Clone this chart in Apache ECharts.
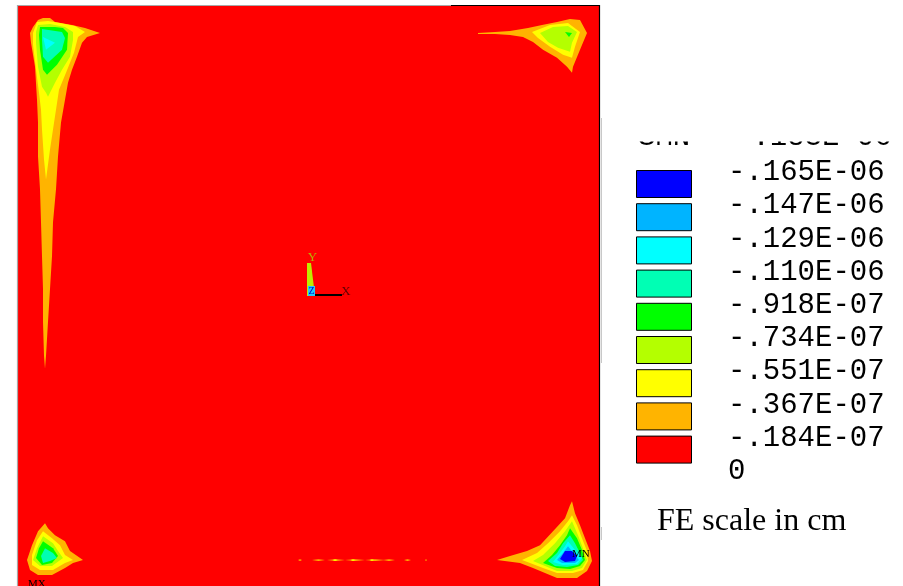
<!DOCTYPE html>
<html>
<head>
<meta charset="utf-8">
<script src="https://cdn.jsdelivr.net/npm/echarts@6/dist/echarts.min.js"></script>
<style>
  html, body { margin: 0; padding: 0; background: #ffffff; }
  #chart { width: 903px; height: 586px; }
</style>
</head>
<body>
<div id="chart"></div>
<script>
// Plate model, origin at the centre, half-width in model units
const HALF = 291;

// Contour band colours, level 0 (0 .. -.184E-07) up to level 8 (most negative)
const levelColors = ['#FF0000', '#FFB400', '#FFFF00', '#B4FF00', '#00FF00', '#00FFB4', '#00FFFF', '#00B4FF', '#0000FF'];

// Legend boundary labels, top to bottom
const legendLabels = ['-.165E-06', '-.147E-06', '-.129E-06', '-.110E-06', '-.918E-07', '-.734E-07', '-.551E-07', '-.367E-07', '-.184E-07', '0'];
const legendHeader = ['SMN', '-.183E-06'];

// Whole plate (level 0)
const plate = [[-HALF, -HALF], [HALF, -HALF], [HALF, HALF], [-HALF, HALF]];

// Contour bands, [level, ring] in model coordinates
const bandsTopLeft = [
  [1, [[-266,279],[-259,279],[-254,275],[-237,272],[-224,269],[-209,264],[-222,260],[-227,254],[-232,240],[-237,227],[-241,214],[-244,197],[-248,174],[-251,140],[-253,107],[-256,74],[-257,40],[-259,7],[-261,-26],[-263,-60],[-264,-73],[-265,-60],[-266,-26],[-266,7],[-267,40],[-268,74],[-269,107],[-271,140],[-271,174],[-272,197],[-274,230],[-278,254],[-279,264],[-276,270],[-271,277]]],
  [2, [[-272,275],[-261,276],[-249,274],[-234,271],[-224,265],[-231,260],[-235,244],[-243,224],[-250,207],[-253,187],[-256,167],[-259,147],[-263,117],[-265,137],[-267,167],[-268,187],[-270,204],[-273,227],[-276,252],[-276,264]]],
  [3, [[-271,272],[-259,273],[-244,270],[-236,265],[-236,257],[-239,240],[-247,227],[-254,214],[-259,204],[-261,200],[-263,204],[-267,210],[-271,230],[-273,254],[-273,265]]],
  [4, [[-269,270],[-254,270],[-246,269],[-241,264],[-242,247],[-252,232],[-262,222],[-266,227],[-269,247],[-270,262]]],
  [5, [[-267,268],[-247,265],[-244,259],[-247,247],[-261,234],[-266,240],[-267,257]]],
  [6, [[-266,260],[-254,254],[-263,247]]]
];

const bandsTopRight = [
  [1, [[169,264],[186,265],[201,266],[219,269],[233,272],[248,275],[261,278],[271,277],[278,264],[271,247],[264,230],[263,224],[258,230],[248,239],[234,247],[224,255],[214,260],[201,262],[186,263],[169,263]]],
  [2, [[223,265],[241,272],[259,274],[271,265],[266,250],[263,239],[254,242],[241,250],[229,259]]],
  [3, [[231,264],[244,270],[259,271],[268,265],[263,254],[261,245],[249,249],[239,255]]],
  [4, [[256,265],[263,264],[260,260]]]
];

const bandsBottomLeft = [
  [1, [[-264,-228],[-261,-233],[-254,-240],[-244,-246],[-239,-256],[-226,-265],[-236,-268],[-244,-273],[-257,-280],[-271,-280],[-279,-275],[-282,-265],[-277,-250],[-271,-236]]],
  [2, [[-266,-236],[-257,-243],[-249,-250],[-244,-260],[-236,-265],[-244,-268],[-256,-275],[-269,-275],[-277,-270],[-277,-260],[-272,-245]]],
  [3, [[-266,-241],[-256,-248],[-251,-256],[-246,-263],[-257,-271],[-269,-271],[-276,-265],[-272,-253]]],
  [4, [[-266,-246],[-256,-253],[-251,-261],[-257,-268],[-267,-270],[-273,-263],[-270,-253]]],
  [5, [[-264,-253],[-256,-258],[-252,-263],[-259,-266],[-266,-268],[-268,-261]]]
];

const bandsBottomRight = [
  [1, [[263,-206],[266,-218],[271,-230],[276,-243],[281,-256],[283,-266],[278,-276],[268,-283],[248,-283],[236,-278],[224,-273],[211,-268],[188,-265],[201,-261],[218,-256],[231,-250],[244,-236],[256,-223],[261,-210]]],
  [2, [[263,-220],[268,-230],[273,-243],[278,-256],[279,-266],[274,-275],[264,-278],[248,-278],[234,-273],[221,-268],[213,-265],[228,-258],[239,-248],[251,-236],[259,-226]]],
  [3, [[263,-226],[269,-240],[274,-253],[278,-265],[273,-273],[263,-276],[248,-276],[236,-271],[224,-266],[234,-260],[246,-248],[256,-236]]],
  [4, [[261,-233],[268,-243],[273,-255],[276,-265],[271,-271],[261,-274],[248,-273],[234,-268],[243,-260],[251,-250],[258,-240]]],
  [5, [[261,-240],[266,-248],[271,-258],[274,-265],[269,-270],[258,-272],[246,-271],[239,-266],[248,-258],[254,-248]]],
  [6, [[259,-246],[266,-255],[273,-263],[268,-269],[254,-270],[244,-267],[251,-258],[256,-251]]],
  [7, [[259,-251],[266,-260],[270,-265],[266,-268],[253,-268],[248,-265],[254,-258]]],
  [8, [[256,-256],[263,-256],[268,-261],[266,-266],[256,-267],[251,-264]]]
];

// Thin level-1 seam near the bottom edge: [x start, x end] at seamY
const seamY = -265;
const seamSegments = [[-11,-7],[3,16],[18,36],[36,56],[56,76],[74,86],[95,102],[116,118]];
// Level-2 spots along the seam (x positions)
const seamSpots = [26, 44, 63];

// Node labels for extreme values
const nodeLabels = [['MN', 263, -259], ['MX', -281, -289]];

// Assemble all rings, drawn in ascending level so inner bands sit on top
const bands = [[0, plate]]
  .concat(bandsTopLeft, bandsTopRight, bandsBottomLeft, bandsBottomRight)
  .concat(seamSegments.map(s => [1, [[s[0], seamY], [(s[0] + s[1]) / 2, seamY + 0.9], [s[1], seamY], [(s[0] + s[1]) / 2, seamY - 0.9]]]))
  .concat(seamSpots.map(x => [2, [[x - 2.5, seamY], [x, seamY + 0.9], [x + 2.5, seamY], [x, seamY - 0.9]]]));
bands.sort((a, b) => a[0] - b[0]);

const chart = echarts.init(document.getElementById('chart'), null, { renderer: 'canvas' });

function renderBand(params, api) {
  const b = bands[params.dataIndex];
  const pts = b[1].map(p => api.coord(p));
  return { type: 'polygon', shape: { points: pts }, style: { fill: levelColors[b[0]], stroke: null } };
}

function renderFrame(params, api) {
  const bl = api.coord([-HALF, -HALF]);
  const tl = api.coord([-HALF, HALF]);
  const tr = api.coord([HALF, HALF]);
  const br = api.coord([HALF, -HALF]);
  const midTop = api.coord([142, HALF]);
  return {
    type: 'group',
    children: [
      { type: 'polyline', shape: { points: [[bl[0] - 0.5, bl[1]], [tl[0] - 0.5, tl[1] - 0.5], [midTop[0], midTop[1] - 0.5]] }, style: { stroke: '#a8a8a8', lineWidth: 1.2, fill: null } },
      { type: 'polyline', shape: { points: [[midTop[0], midTop[1] - 0.5], [tr[0] - 0.5, tr[1] - 0.5], [br[0] - 0.5, br[1]]] }, style: { stroke: '#000000', lineWidth: 1.2, fill: null } }
    ]
  };
}

function renderTriad(params, api) {
  const o = api.coord([0, 0]);
  return {
    type: 'group',
    children: [
      { type: 'polygon', shape: { points: [[o[0] - 2, o[1] - 33], [o[0] + 2, o[1] - 33], [o[0] + 6, o[1]], [o[0] - 2, o[1]]] }, style: { fill: '#BEEB00' } },
      { type: 'text', style: { x: o[0] + 3.5, y: o[1] - 38, text: 'Y', fill: '#B4B400', font: '13px "Liberation Serif"', align: 'center', verticalAlign: 'middle' } },
      { type: 'rect', shape: { x: o[0] - 1, y: o[1] - 10, width: 7, height: 10 }, style: { fill: '#20C8FF' } },
      { type: 'text', style: { x: o[0] + 2.5, y: o[1] - 5, text: 'Z', fill: '#0000C0', font: '10px "Liberation Serif"', align: 'center', verticalAlign: 'middle' } },
      { type: 'line', shape: { x1: o[0] + 6, y1: o[1] - 1, x2: o[0] + 33, y2: o[1] - 1 }, style: { stroke: '#000000', lineWidth: 2 } },
      { type: 'text', style: { x: o[0] + 37, y: o[1] - 4.5, text: 'X', fill: '#600000', font: '13px "Liberation Serif"', align: 'center', verticalAlign: 'middle' } }
    ]
  };
}

function renderNode(params, api) {
  const n = nodeLabels[params.dataIndex];
  const p = api.coord([n[1], n[2]]);
  return { type: 'text', style: { x: p[0], y: p[1], text: n[0], fill: '#000000', font: '11px "Liberation Serif"', align: 'left', verticalAlign: 'middle' } };
}

// Legend: swatches and boundary labels
const legend = { x: 636, top: 170, step: 33.2, w: 55, h: 27, textX: 728 };
const legendColorsTopDown = levelColors.slice().reverse();
const graphics = [];
legendColorsTopDown.forEach((c, i) => {
  graphics.push({ type: 'rect', left: legend.x, top: legend.top + legend.step * i, shape: { width: legend.w, height: legend.h }, style: { fill: c, stroke: '#000000', lineWidth: 1 } });
});
legendLabels.forEach((t, i) => {
  graphics.push({ type: 'text', x: legend.textX, y: legend.top + 2.5 + legend.step * i, style: { text: t, fill: '#000000', font: '29px "Liberation Mono"', verticalAlign: 'middle' } });
});
// Header row, partly hidden behind the top of the legend panel
graphics.push({ type: 'text', x: 638, y: 137.5, z: 10, style: { text: legendHeader[0], fill: '#000000', font: '29px "Liberation Mono"', verticalAlign: 'middle' } });
graphics.push({ type: 'text', x: 735, y: 137.5, z: 10, style: { text: legendHeader[1], fill: '#000000', font: '29px "Liberation Mono"', verticalAlign: 'middle' } });
graphics.push({ type: 'rect', left: 602, top: 90, z: 11, shape: { width: 301, height: 51.5 }, style: { fill: '#ffffff' } });
graphics.push({ type: 'line', z: 12, shape: { x1: 601.5, y1: 118, x2: 601.5, y2: 363 }, style: { stroke: '#c8c8c8', lineWidth: 1 } });
graphics.push({ type: 'line', z: 12, shape: { x1: 601.5, y1: 527, x2: 601.5, y2: 540 }, style: { stroke: '#c8c8c8', lineWidth: 1 } });
graphics.push({ type: 'text', x: 657, y: 522, style: { text: 'FE scale in cm', fill: '#000000', font: '32px "Liberation Serif"', verticalAlign: 'middle' } });

chart.setOption({
  animation: false,
  backgroundColor: '#ffffff',
  grid: { left: 18, top: 6, width: 582, height: 582, show: false },
  xAxis: { type: 'value', min: -HALF, max: HALF, show: false },
  yAxis: { type: 'value', min: -HALF, max: HALF, show: false },
  graphic: graphics,
  series: [
    {
      type: 'custom', name: 'bands', renderItem: renderBand, clip: false, silent: true,
      data: bands.map((b, i) => [b[1][0][0], b[1][0][1], i]), encode: { x: 0, y: 1 }, z: 1
    },
    {
      type: 'custom', name: 'frame', renderItem: renderFrame, clip: false, silent: true,
      data: [[0, 0]], encode: { x: 0, y: 1 }, z: 2
    },
    {
      type: 'custom', name: 'triad', renderItem: renderTriad, clip: false, silent: true,
      data: [[0, 0]], encode: { x: 0, y: 1 }, z: 3
    },
    {
      type: 'custom', name: 'nodes', renderItem: renderNode, clip: false, silent: true,
      data: nodeLabels.map(n => [n[1], n[2]]), encode: { x: 0, y: 1 }, z: 3
    }
  ]
});
</script>
</body>
</html>
